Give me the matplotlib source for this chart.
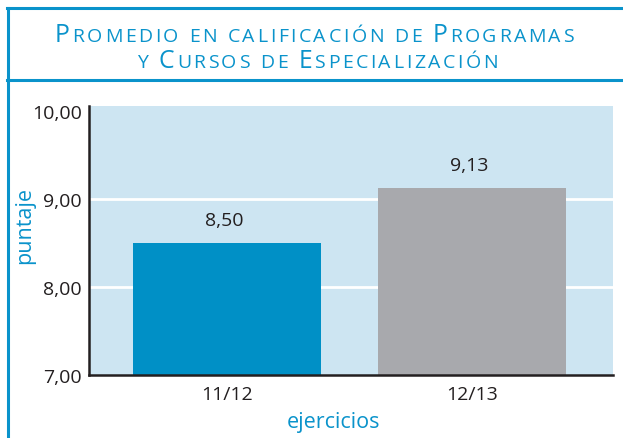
import matplotlib
matplotlib.use("Agg")
import matplotlib.pyplot as plt
from matplotlib.lines import Line2D

# ---- data ----
categories = ["11/12", "12/13"]
values = [8.50, 9.13]
value_labels = ["8,50", "9,13"]
yticks = [7, 8, 9, 10]
ytick_labels = ["7,00", "8,00", "9,00", "10,00"]
gridlines = [8, 9]
title_lines = ["Promedio en calificación de Programas",
               "y Cursos de Especialización"]
xlabel = "ejercicios"
ylabel = "puntaje"

# ---- style ----
FONT = ["Open Sans", "DejaVu Sans"]
BLUE = "#0A93CB"
BAR_COLORS = ["#0090C6", "#A8A9AD"]
BG = "#CDE5F2"
TXT = "#231F20"

W, H, DPI = 623, 439, 100
fig = plt.figure(figsize=(W / DPI, H / DPI), dpi=DPI)
fig.patch.set_facecolor("white")

def fx(px):
    return px / W

def fy(py):
    return 1 - py / H

# frame
lw = 2.2
fig.add_artist(Line2D([fx(7.5), fx(7.5)], [fy(9), fy(445)], color=BLUE, lw=lw, transform=fig.transFigure))
fig.add_artist(Line2D([fx(6.5), fx(630)], [fy(9), fy(9)], color=BLUE, lw=lw, transform=fig.transFigure))
fig.add_artist(Line2D([fx(6.5), fx(630)], [fy(81), fy(81)], color=BLUE, lw=lw, transform=fig.transFigure))

# axes
ax = fig.add_axes([fx(89), 1 - 376 / H, 524 / W, 269 / H])
ax.set_facecolor(BG)
x = list(range(len(categories)))
ax.bar(x, values, width=0.767, color=BAR_COLORS, zorder=3)
ax.set_xlim(-0.563, 1.576)
ax.set_ylim(7, 10.06)
ax.set_yticks(yticks)
ax.set_yticklabels(ytick_labels, fontsize=14, color=TXT, family=FONT)
ax.set_xticks(x)
ax.set_xticklabels(categories, fontsize=14, color=TXT, family=FONT)
ax.tick_params(axis="both", length=0)
ax.tick_params(axis="y", pad=5)
ax.tick_params(axis="x", pad=7)
for g in gridlines:
    ax.axhline(g, color="white", lw=2, zorder=1)
for s in ["top", "right"]:
    ax.spines[s].set_visible(False)
for s in ["left", "bottom"]:
    ax.spines[s].set_color(TXT)
    ax.spines[s].set_linewidth(1.8)
    ax.spines[s].set_zorder(4)

for xi, v, lab in zip(x, values, value_labels):
    ax.annotate(lab, (xi, v), xytext=(-2, 13), textcoords="offset points",
                ha="center", va="baseline", fontsize=14, color=TXT, family=FONT, zorder=5)

ax.set_ylabel(ylabel, fontsize=15.5, color=BLUE, family=FONT, va="center", ha="center")
ax.yaxis.set_label_coords((25 - 89) / 524, (376 - 225) / 269)
ax.set_xlabel(xlabel, fontsize=15.5, color=BLUE, family=FONT, va="baseline", ha="center")
ax.xaxis.set_label_coords((334 - 89) / 524, (376 - 428) / 269)

# ---- small-caps title, drawn per character ----
renderer = fig.canvas.get_renderer()
BIG, SMALL = 17.8, 14.0
SPACE_PX = 5.5

def build(text):
    items = []
    for ch in text:
        if ch == " ":
            items.append((None, SPACE_PX))
            continue
        size = BIG if ch.isupper() else SMALL
        t = fig.text(0, 0, ch.upper(), fontsize=size, family=FONT, color=BLUE,
                     ha="left", va="baseline", fontweight="medium")
        w = t.get_window_extent(renderer).width
        items.append((t, w))
    return items

line1 = build(title_lines[0])
line2 = build(title_lines[1])
target1 = 574 - 55
nat1 = sum(w for _, w in line1)
track = (target1 - nat1) / (len(line1) - 1)

def place(items, cx, base):
    total = sum(w for _, w in items) + track * (len(items) - 1)
    xx = cx - total / 2
    for t, w in items:
        if t is not None:
            t.set_position((fx(xx), fy(base)))
        xx += w + track

place(line1, 314.5, 41.7)
place(line2, 317.5, 68.3)

fig.savefig("out.png", dpi=DPI, facecolor=fig.get_facecolor())
